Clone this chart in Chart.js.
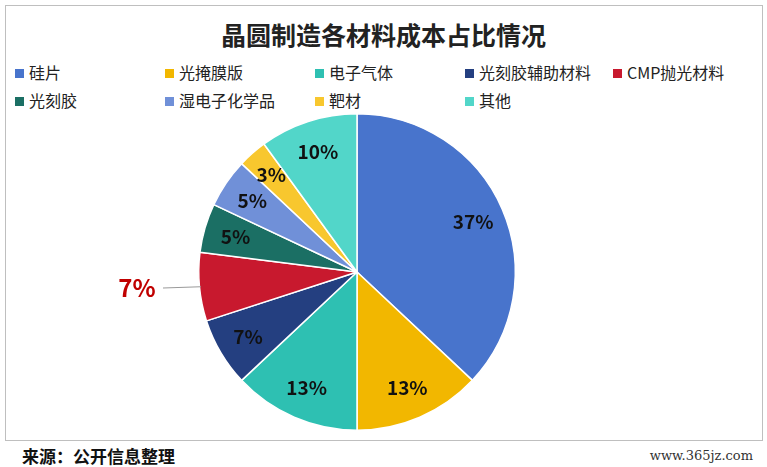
<!DOCTYPE html>
<html><head><meta charset="utf-8">
<script src="https://cdn.jsdelivr.net/npm/chart.js@4"></script>
<style>
body{margin:0;width:767px;height:467px;background:#fff;font-family:"Noto Sans CJK SC",sans-serif;position:relative;overflow:hidden}
#frame{position:absolute;left:5px;top:5px;width:756px;height:434px;border:1px solid #bfbfbf}
#title{position:absolute;top:16px;width:767px;text-align:center;font-size:25px;font-weight:bold;color:#222}
.lg{position:absolute;font-size:16px;color:#222;line-height:20px;white-space:nowrap}
.lg span{display:inline-block;width:9px;height:9px;margin-right:5px;vertical-align:1px}
#wrap{position:absolute;left:88px;top:103px;width:438px;height:338px}
#src{position:absolute;left:22px;top:443px;font-size:17px;font-weight:bold;color:#111}
#web{position:absolute;right:14px;top:448px;font-size:13px;color:#333;font-family:"DejaVu Serif",serif}
</style></head><body>
<div id="frame"></div>
<div id="title">晶圆制造各材料成本占比情况</div>
<div id="legend"></div>
<div id="wrap"><canvas id="c"></canvas></div>
<div id="src">来源：公开信息整理</div>
<div id="web">www.365jz.com</div>
<script>
const categories=["硅片","光掩膜版","电子气体","光刻胶辅助材料","CMP抛光材料","光刻胶","湿电子化学品","靶材","其他"];
const values=[37,13,13,7,7,5,5,3,10];
const colors=["#4874CC","#F2B700","#2EC0B2","#243F80","#C8192E","#1B6F64","#7090D8","#F8C72E","#52D6C9"];
const lg=document.getElementById('legend');
categories.forEach((c,i)=>{const d=document.createElement('div');d.className='lg';
 d.style.left=(15+150*(i<5?i:i-5)-(i==4?2:0))+'px';d.style.top=(i<5?62:90)+'px';
 d.innerHTML='<span style="background:'+colors[i]+'"></span>'+c;lg.appendChild(d);});
const labelPlugin={id:'lbl',afterDatasetsDraw(ch){const ctx=ch.ctx;const meta=ch.getDatasetMeta(0);
 meta.data.forEach((a,i)=>{ctx.save();ctx.font='bold 19px "Noto Sans CJK SC",sans-serif';ctx.textAlign='center';ctx.textBaseline='middle';
  const mid=(a.startAngle+a.endAngle)/2;
  if(i===4){const r=a.outerRadius;const x0=a.x+Math.cos(mid)*r*0.99,y0=a.y+Math.sin(mid)*r*0.99;
   ctx.strokeStyle='#999';ctx.lineWidth=1;ctx.beginPath();ctx.moveTo(x0,y0);ctx.lineTo(a.x-194,a.y+16);ctx.stroke();
   ctx.fillStyle='#C00000';ctx.font='bold 24px "Noto Sans CJK SC",sans-serif';ctx.fillText(values[i]+'%',a.x-220,a.y+16);}
  else{const f=i===0?0.8:(i===7?0.82:0.8);const r=a.outerRadius*f;ctx.fillStyle='#111';
   ctx.fillText(values[i]+'%',a.x+Math.cos(mid)*r,a.y+Math.sin(mid)*r);}
  ctx.restore();});}};
new Chart(document.getElementById('c'),{type:'pie',data:{labels:categories,datasets:[{data:values,backgroundColor:colors,borderColor:'#fff',borderWidth:1.5}]},
 options:{responsive:true,maintainAspectRatio:false,animation:false,layout:{padding:{left:110,right:10,top:10,bottom:10}},plugins:{legend:{display:false},tooltip:{enabled:false}}},plugins:[labelPlugin]});
</script></body></html>
